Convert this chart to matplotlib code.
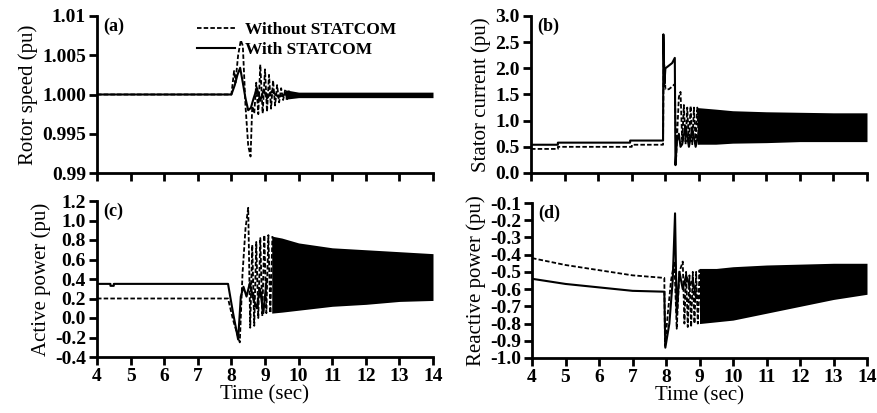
import matplotlib
matplotlib.use('Agg')
import matplotlib.pyplot as plt
import numpy as np

plt.rcParams['font.family'] = ['Liberation Serif', 'DejaVu Serif']
plt.rcParams['axes.unicode_minus'] = False

# ---- (a) rotor speed ----
a_t_wo = [4, 8.0, 8.08, 8.12, 8.2, 8.28, 8.34, 8.42, 8.5, 8.57, 8.62, 8.68, 8.74, 8.8, 8.86, 8.93,
          9.0, 9.06, 9.12, 9.18, 9.24, 9.3, 9.36, 9.42, 9.48, 9.54, 9.6, 9.66, 9.72]
a_v_wo = [1.0, 1.0, 1.003, 1.0015, 1.005, 1.0069, 1.0062, 0.9985, 0.9935, 0.9921, 0.9985, 0.9976,
          1.0015, 0.9975, 1.0038, 0.9976, 1.0032, 0.9978, 1.0025, 0.9982, 1.0018, 0.9986, 1.0012,
          0.9990, 1.0008, 0.9993, 1.0006, 0.9994, 1.0005]
a_t_w = [4, 8.0, 8.1, 8.18, 8.26, 8.34, 8.42, 8.5, 8.58, 8.66, 8.76, 8.86, 8.96, 9.06, 9.2, 9.4, 9.6]
a_v_w = [1.0, 1.0, 1.0012, 1.0025, 1.0034, 1.0015, 0.9995, 0.998, 0.9983, 0.9995, 1.0008, 0.9992,
         1.0006, 0.9995, 1.0004, 0.9997, 1.0]
a_env_t = [9.6, 10, 11, 12, 13, 14]
a_env_hi = [1.0006, 1.0003, 1.0003, 1.0003, 1.0003, 1.0003]
a_env_lo = [0.9994, 0.9996, 0.9996, 0.9996, 0.9996, 0.9996]

# ---- (b) stator current ----
b_t_wo = [4, 4.8, 4.8, 7.0, 7.0, 7.93, 7.95, 8.0, 8.1, 8.2, 8.28, 8.32, 8.4, 8.45, 8.5, 8.55, 8.6,
          8.65, 8.7, 8.75, 8.8, 8.85, 8.9, 8.95, 9.0]
b_v_wo = [0.46, 0.46, 0.50, 0.50, 0.54, 0.54, 2.3, 1.6, 1.6, 1.65, 1.7, 0.3, 1.45, 1.55, 0.6, 1.3,
          0.55, 1.25, 0.6, 1.28, 0.55, 1.25, 0.58, 1.25, 0.55]
b_t_w = [4, 4.8, 4.8, 6.95, 6.95, 7.93, 7.94, 7.97, 8.0, 8.1, 8.2, 8.28, 8.3, 8.34, 8.4, 8.45, 8.5,
         8.6, 8.7, 8.8, 8.9, 9.0]
b_v_w = [0.54, 0.54, 0.58, 0.58, 0.62, 0.62, 2.65, 1.7, 2.0, 2.05, 2.1, 2.2, 0.15, 0.6, 0.75, 0.5,
         0.55, 0.9, 0.5, 0.85, 0.5, 0.8]
b_env_t = [8.95, 9.5, 10, 11, 12, 13, 14]
b_env_hi = [1.25, 1.22, 1.19, 1.17, 1.16, 1.15, 1.15]
b_env_lo = [0.55, 0.55, 0.57, 0.58, 0.60, 0.60, 0.60]

# ---- (c) active power ----
c_t_wo = [4, 7.9, 8.05, 8.25, 8.33, 8.42, 8.5, 8.56, 8.62, 8.68, 8.74, 8.8, 8.86, 8.92, 8.98,
          9.04, 9.1, 9.16, 9.22]
c_v_wo = [0.2, 0.2, -0.02, -0.25, 0.45, 0.92, 1.13, -0.1, 0.75, -0.08, 0.78, 0.0, 0.82, 0.02, 0.85,
          0.05, 0.85, 0.05, 0.84]
c_t_w = [4, 4.4, 4.4, 4.5, 4.5, 7.9, 8.05, 8.2, 8.28, 8.36, 8.45, 8.55, 8.65, 8.75, 8.85, 8.95, 9.05]
c_v_w = [0.35, 0.35, 0.33, 0.33, 0.35, 0.35, 0.05, -0.22, 0.22, 0.32, 0.22, 0.36, 0.2, 0.1, 0.3,
         0.05, 0.4]
c_env_t = [9.2, 9.5, 10, 11, 12, 13, 14]
c_env_hi = [0.84, 0.82, 0.77, 0.72, 0.70, 0.68, 0.66]
c_env_lo = [0.05, 0.06, 0.08, 0.12, 0.14, 0.17, 0.18]

# ---- (d) reactive power ----
d_t_wo = [4, 5, 6, 7, 7.95, 7.97, 8.05, 8.15, 8.25, 8.32, 8.4, 8.5, 8.55, 8.6, 8.65, 8.7, 8.75,
          8.8, 8.85, 8.9, 8.95, 9.0, 9.05]
d_v_wo = [-0.42, -0.46, -0.49, -0.52, -0.535, -0.93, -0.75, -0.55, -0.44, -0.83, -0.5, -0.44, -0.8,
          -0.5, -0.82, -0.52, -0.82, -0.5, -0.8, -0.5, -0.8, -0.49, -0.79]
d_t_w = [4, 5, 6, 7, 7.95, 7.98, 8.1, 8.2, 8.27, 8.32, 8.4, 8.5, 8.6, 8.7, 8.8, 8.9]
d_v_w = [-0.54, -0.57, -0.59, -0.61, -0.615, -0.94, -0.8, -0.55, -0.16, -0.75, -0.5, -0.6, -0.52,
         -0.58, -0.55, -0.65]
d_env_t = [9.0, 9.5, 10, 11, 12, 13, 14]
d_env_hi = [-0.48, -0.48, -0.47, -0.46, -0.455, -0.45, -0.45]
d_env_lo = [-0.80, -0.79, -0.78, -0.74, -0.70, -0.66, -0.63]

x_ticks = list(range(4, 15))

fig = plt.figure(figsize=(8.77, 4.13), dpi=100)
W, H = 877, 413


def make_ax(l, t, r, b):
    return fig.add_axes([l / W, 1 - b / H, (r - l) / W, (b - t) / H])


axa = make_ax(97, 16, 433, 173)
axb = make_ax(531, 16, 867, 173)
axc = make_ax(97, 201, 433, 357)
axd = make_ax(532, 203, 867, 358)

dash = (0, (2.5, 1.2))
panels = [
    (axa, a_t_wo, a_v_wo, a_t_w, a_v_w, a_env_t, a_env_hi, a_env_lo, '(a)', 'Rotor speed (pu)',
     (0.99, 1.01), [0.99, 0.995, 1.0, 1.005, 1.01], ['0.99', '0.995', '1.000', '1.005', '1.01']),
    (axb, b_t_wo, b_v_wo, b_t_w, b_v_w, b_env_t, b_env_hi, b_env_lo, '(b)', 'Stator current (pu)',
     (0, 3), np.arange(0, 3.01, 0.5), None),
    (axc, c_t_wo, c_v_wo, c_t_w, c_v_w, c_env_t, c_env_hi, c_env_lo, '(c)', 'Active power (pu)',
     (-0.4, 1.2), np.arange(-0.4, 1.21, 0.2), None),
    (axd, d_t_wo, d_v_wo, d_t_w, d_v_w, d_env_t, d_env_hi, d_env_lo, '(d)', 'Reactive power (pu)',
     (-1.0, -0.1), np.arange(-1.0, -0.09, 0.1), None),
]

for ax, t1, v1, t2, v2, et, ehi, elo, tag, ylab, ylim, yt, ytl in panels:
    ax.plot(t1, v1, color='k', lw=1.3, ls=dash, label='Without STATCOM')
    ax.plot(t2, v2, color='k', lw=1.5, label='With STATCOM')
    ax.fill_between(et, elo, ehi, color='k', lw=0)
    ax.set_xlim(4, 14)
    ax.set_ylim(*ylim)
    ax.set_xticks(x_ticks)
    ax.set_yticks(yt)
    if ytl is not None:
        ax.set_yticklabels(ytl)
    else:
        ax.set_yticklabels(['%.1f' % v for v in yt])
    for s in ('top', 'right'):
        ax.spines[s].set_visible(False)
    for s in ('left', 'bottom'):
        ax.spines[s].set_linewidth(2)
    ax.tick_params(direction='out', length=6, width=2, labelsize=14, pad=2)
    for lb in ax.get_yticklabels() + ax.get_xticklabels():
        lb.set_fontweight('bold')
    ax.set_ylabel(ylab, fontsize=15, labelpad=3)
    ax.text(0.02, 0.99, tag, transform=ax.transAxes, fontsize=13, fontweight='bold',
            va='top', ha='left')

for ax in (axa, axb):
    ax.set_xticklabels([])
for ax in (axc, axd):
    ax.set_xlabel('Time (sec)', fontsize=15, labelpad=0)

axa.legend(loc='upper left', bbox_to_anchor=(0.26, 1.04), frameon=False,
           prop={'weight': 'bold', 'size': 12.5}, handlelength=2.2, handletextpad=0.6,
           labelspacing=0.2, borderpad=0.2)

fig.savefig('out.png', dpi=100)
